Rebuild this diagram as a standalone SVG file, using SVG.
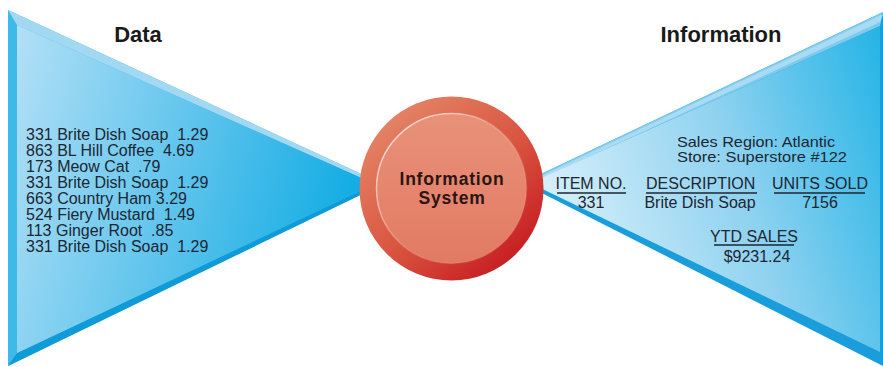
<svg xmlns="http://www.w3.org/2000/svg" width="883" height="367" viewBox="0 0 883 367">
<defs>
<linearGradient id="lface" x1="0" y1="0" x2="1" y2="0.25">
<stop offset="0" stop-color="#b3e0f6"/>
<stop offset="0.55" stop-color="#5cc3ec"/>
<stop offset="1" stop-color="#14ade4"/>
</linearGradient>
<linearGradient id="rface" x1="0" y1="0.3" x2="1" y2="0">
<stop offset="0" stop-color="#d4eefa"/>
<stop offset="0.5" stop-color="#8fd2f0"/>
<stop offset="1" stop-color="#24b4e6"/>
</linearGradient>
<linearGradient id="ring" x1="0.15" y1="0.1" x2="0.85" y2="0.9">
<stop offset="0" stop-color="#e38466"/>
<stop offset="0.55" stop-color="#d9543f"/>
<stop offset="1" stop-color="#c61c22"/>
</linearGradient>
<linearGradient id="core" x1="0" y1="0" x2="0" y2="1">
<stop offset="0" stop-color="#e9917a"/>
<stop offset="1" stop-color="#e27a62"/>
</linearGradient>
<linearGradient id="rim" x1="0" y1="0" x2="1" y2="1">
<stop offset="0" stop-color="#fff" stop-opacity="0.9"/>
<stop offset="0.5" stop-color="#fff" stop-opacity="0.2"/>
<stop offset="1" stop-color="#fff" stop-opacity="0"/>
</linearGradient>
</defs>
<style>
.t{font-family:"Liberation Sans",Arial,sans-serif;font-size:16px;fill:#1d2631;white-space:pre}
.s{font-size:15px}
.h{font-family:"Liberation Sans",Arial,sans-serif;font-size:22px;font-weight:bold;fill:#1a1a1a}
.c{font-family:"Liberation Sans",Arial,sans-serif;font-size:17.5px;font-weight:bold;fill:#2a1512;letter-spacing:0.8px}
.u{stroke:#1d2631;stroke-width:1.6}
</style>

<g id="data">
<polygon points="8,10 8,366 383,184" fill="#3dbae8"/>
<polygon points="8,10 383,184 375,184 17,25" fill="#a3d8f3"/>
<polygon points="8,366 383,184 375,184 17,353" fill="#0f9ad8"/>
<polygon points="17,25 17,353 375,184" fill="url(#lface)"/>
<text class="h" x="138" y="42" text-anchor="middle">Data</text>
<text class="t" x="26" y="140" xml:space="preserve">331 Brite Dish Soap  1.29</text>
<text class="t" x="26" y="156" xml:space="preserve">863 BL Hill Coffee  4.69</text>
<text class="t" x="26" y="172" xml:space="preserve">173 Meow Cat  .79</text>
<text class="t" x="26" y="188" xml:space="preserve">331 Brite Dish Soap  1.29</text>
<text class="t" x="26" y="204" xml:space="preserve">663 Country Ham 3.29</text>
<text class="t" x="26" y="220" xml:space="preserve">524 Fiery Mustard  1.49</text>
<text class="t" x="26" y="236" xml:space="preserve">113 Ginger Root  .85</text>
<text class="t" x="26" y="252" xml:space="preserve">331 Brite Dish Soap  1.29</text>
</g>

<g id="information">
<polygon points="883,12 883,366 522,183" fill="#1a9edb"/>
<polygon points="883,12 522,183 530,183 880,26" fill="#7fcaed"/>
<polygon points="883,14 530,181 532,183 880,22" fill="#b3e0f5" opacity="0.8"/>
<polygon points="880,26 880,352 530,183" fill="url(#rface)"/>
<text class="h" x="721" y="42" text-anchor="middle">Information</text>
<text class="t s" x="677" y="146.5" textLength="158" lengthAdjust="spacingAndGlyphs">Sales Region: Atlantic</text>
<text class="t s" x="677" y="162" textLength="170" lengthAdjust="spacingAndGlyphs">Store: Superstore #122</text>
<text class="t" x="591" y="189" text-anchor="middle">ITEM NO.</text>
<text class="t" x="646" y="189">DESCRIPTION</text>
<text class="t" x="820" y="189" text-anchor="middle">UNITS SOLD</text>
<line class="u" x1="557" y1="193" x2="626" y2="193"/>
<line class="u" x1="646" y1="193" x2="757" y2="193"/>
<line class="u" x1="774" y1="193" x2="865" y2="193"/>
<text class="t" x="591" y="208" text-anchor="middle">331</text>
<text class="t" x="700" y="208" text-anchor="middle">Brite Dish Soap</text>
<text class="t" x="820" y="208" text-anchor="middle">7156</text>
<text class="t" x="754" y="242" text-anchor="middle">YTD SALES</text>
<line class="u" x1="714" y1="245" x2="794" y2="245"/>
<text class="t" x="757" y="262" text-anchor="middle">$9231.24</text>
</g>

<g id="system">
<circle cx="451.5" cy="188.5" r="92" fill="url(#ring)"/>
<circle cx="451.5" cy="188.5" r="75" fill="url(#core)"/>
<circle cx="451.5" cy="188.5" r="75" fill="none" stroke="url(#rim)" stroke-width="1.5"/>
<text class="c" x="452" y="184.5" text-anchor="middle">Information</text>
<text class="c" x="452" y="203.5" text-anchor="middle">System</text>
</g>
</svg>
